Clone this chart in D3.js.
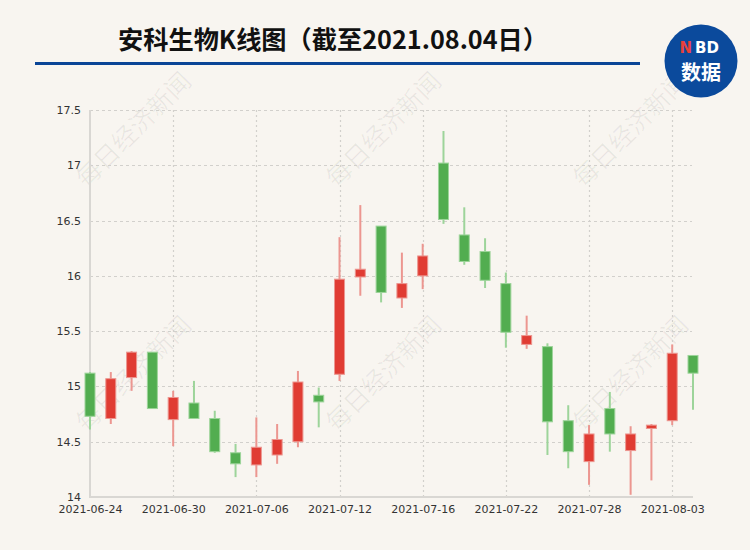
<!DOCTYPE html>
<html>
<head>
<meta charset="utf-8">
<script src="https://cdn.jsdelivr.net/npm/d3@7/dist/d3.min.js"></script>
<style>
  html, body { margin: 0; padding: 0; background: #f8f5f0; }
  svg { display: block; }
</style>
</head>
<body>
<svg id="chart" width="750" height="550"></svg>
<script>
// ---- data ----
const dates = [
  "2021-06-24","2021-06-25","2021-06-28","2021-06-29","2021-06-30",
  "2021-07-01","2021-07-02","2021-07-05","2021-07-06","2021-07-07",
  "2021-07-08","2021-07-09","2021-07-12","2021-07-13","2021-07-14",
  "2021-07-15","2021-07-16","2021-07-19","2021-07-20","2021-07-21",
  "2021-07-22","2021-07-23","2021-07-26","2021-07-27","2021-07-28",
  "2021-07-29","2021-07-30","2021-08-02","2021-08-03","2021-08-04"
];
const opens  = [15.12,14.71,15.08,15.31,14.70,14.85,14.71,14.40,14.29,14.38,
                14.50,14.92,15.11,15.99,16.45,15.80,16.00,17.02,16.37,16.22,
                15.93,15.38,15.36,14.69,14.32,14.80,14.42,14.62,14.69,15.28];
const closes = [14.73,15.07,15.31,14.80,14.90,14.71,14.41,14.30,14.45,14.52,
                15.04,14.86,15.97,16.06,15.85,15.93,16.18,16.51,16.13,15.96,
                15.49,15.46,14.68,14.41,14.57,14.57,14.57,14.65,15.30,15.12];
const highs  = [15.13,15.13,15.32,15.31,14.96,15.05,14.78,14.48,14.72,14.66,
                15.14,14.99,16.35,16.64,16.45,16.21,16.29,17.31,16.62,16.34,
                16.03,15.64,15.39,14.83,14.65,14.95,14.64,14.66,15.38,15.28];
const lows   = [14.61,14.66,14.96,14.80,14.46,14.71,14.40,14.18,14.18,14.30,
                14.45,14.63,15.05,15.82,15.76,15.71,15.88,16.47,16.10,15.89,
                15.35,15.34,14.38,14.26,14.11,14.41,14.02,14.15,14.65,14.79];
const yTicks = [14, 14.5, 15, 15.5, 16, 16.5, 17, 17.5];
const xTickLabels = dates.filter((d, i) => i % 4 === 0);
const title = "安科生物K线图（截至2021.08.04日）";
const watermark = "每日经济新闻";

// ---- layout ----
const svg = d3.select("#chart");
const W = 750, H = 550;
const plot = { left: 90, right: 693, top: 110, bottom: 497 };
const UP = "#e03c33", DOWN = "#52ad50";
const UP_LIGHT = "#ec9690", DOWN_LIGHT = "#9dd49a";

svg.append("rect").attr("width", W).attr("height", H).attr("fill", "#f8f5f0");

// watermark
const wmPos = [];
[128, 372].forEach(cy => [132, 382, 629].forEach(cx => wmPos.push([cx, cy])));
svg.append("g").selectAll("text").data(wmPos).join("text")
  .attr("transform", d => `translate(${d[0]},${d[1]}) rotate(-45)`)
  .attr("text-anchor", "middle")
  .attr("dominant-baseline", "central")
  .attr("font-family", "'Noto Sans CJK SC', sans-serif")
  .attr("font-size", 25)
  .attr("fill", "#000")
  .attr("fill-opacity", 0.06)
  .text(watermark);

// title
svg.append("text")
  .attr("x", 118).attr("y", 49)
  .attr("font-family", "'Noto Sans CJK SC', sans-serif")
  .attr("font-weight", "bold")
  .attr("font-size", 25)
  .attr("fill", "#111")
  .attr("textLength", 430)
  .attr("lengthAdjust", "spacingAndGlyphs")
  .text(title);

svg.append("rect").attr("x", 35).attr("y", 62).attr("width", 605).attr("height", 3).attr("fill", "#0a4596");

// logo
const logo = svg.append("g").attr("transform", "translate(701,61)");
logo.append("circle").attr("r", 36.5).attr("fill", "#0b4a9c");
logo.append("text").attr("x", -9).attr("y", -8)
  .attr("text-anchor", "end")
  .attr("font-family", "'DejaVu Sans', sans-serif")
  .attr("font-weight", "bold").attr("font-size", 15).attr("fill", "#e8413a")
  .text("N");
logo.append("text").attr("x", -6).attr("y", -8)
  .attr("text-anchor", "start")
  .attr("font-family", "'DejaVu Sans', sans-serif")
  .attr("font-weight", "bold").attr("font-size", 15).attr("fill", "#fff")
  .text("BD");
logo.append("text").attr("x", 0).attr("y", 19)
  .attr("text-anchor", "middle")
  .attr("font-family", "'Noto Sans CJK SC', sans-serif")
  .attr("font-weight", "bold").attr("font-size", 20).attr("fill", "#fff")
  .text("数据");

// scales
const x = d3.scalePoint().domain(dates).range([plot.left, plot.right]).padding(0);
const y = d3.scaleLinear().domain([14, 17.5]).range([plot.bottom, plot.top]);

// grid
const grid = svg.append("g");
grid.selectAll("line.h").data(yTicks.slice(1)).join("line")
  .attr("class", "h")
  .attr("x1", plot.left).attr("x2", 692)
  .attr("y1", d => Math.round(y(d)) + 0.5).attr("y2", d => Math.round(y(d)) + 0.5)
  .attr("stroke", "#d2d0cc").attr("stroke-width", 1).attr("stroke-dasharray", "3,3");
grid.selectAll("line.v").data(xTickLabels.slice(1)).join("line")
  .attr("class", "v")
  .attr("x1", d => Math.round(x(d)) + 0.5).attr("x2", d => Math.round(x(d)) + 0.5)
  .attr("y1", plot.top).attr("y2", plot.bottom)
  .attr("stroke", "#d2d0cc").attr("stroke-width", 1.2).attr("stroke-dasharray", "2,3");

// axes
const yAxis = d3.axisLeft(y).tickValues(yTicks).tickSize(0).tickPadding(9).tickFormat(d => String(d));
const gy = svg.append("g").attr("transform", `translate(${plot.left},0)`).call(yAxis);
gy.select(".domain").remove();
gy.selectAll("text").attr("font-family", "'DejaVu Sans', sans-serif").attr("font-size", 11).attr("fill", "#333");

const xAxis = d3.axisBottom(x).tickValues(xTickLabels).tickSize(0).tickPadding(8);
const gx = svg.append("g").attr("transform", `translate(0,${plot.bottom})`).call(xAxis);
gx.select(".domain").remove();
gx.selectAll("text").attr("font-family", "'DejaVu Sans', sans-serif").attr("font-size", 11).attr("fill", "#333");

svg.append("line").attr("x1", plot.left).attr("x2", plot.left).attr("y1", plot.top).attr("y2", plot.bottom + 1)
  .attr("stroke", "#d9d7d3").attr("stroke-width", 2);
svg.append("line").attr("x1", plot.left).attr("x2", plot.right).attr("y1", plot.bottom).attr("y2", plot.bottom)
  .attr("stroke", "#d9d7d3").attr("stroke-width", 2);

// candles
const candles = dates.map((d, i) => ({ d, o: opens[i], c: closes[i], h: highs[i], l: lows[i] }));
const bw = 10;
const cg = svg.append("g").selectAll("g").data(candles).join("g");
cg.append("line")
  .attr("x1", d => x(d.d)).attr("x2", d => x(d.d))
  .attr("y1", d => y(d.h)).attr("y2", d => y(d.l))
  .attr("stroke", d => d.c >= d.o ? UP_LIGHT : DOWN_LIGHT).attr("stroke-width", 2);
cg.append("rect")
  .attr("x", d => x(d.d) - bw / 2)
  .attr("y", d => y(Math.max(d.o, d.c)))
  .attr("width", bw)
  .attr("height", d => Math.max(1, y(Math.min(d.o, d.c)) - y(Math.max(d.o, d.c))))
  .attr("fill", d => d.c >= d.o ? UP : DOWN)
  .attr("stroke", d => d.c >= d.o ? UP_LIGHT : DOWN_LIGHT)
  .attr("stroke-width", 1);
</script>
</body>
</html>
